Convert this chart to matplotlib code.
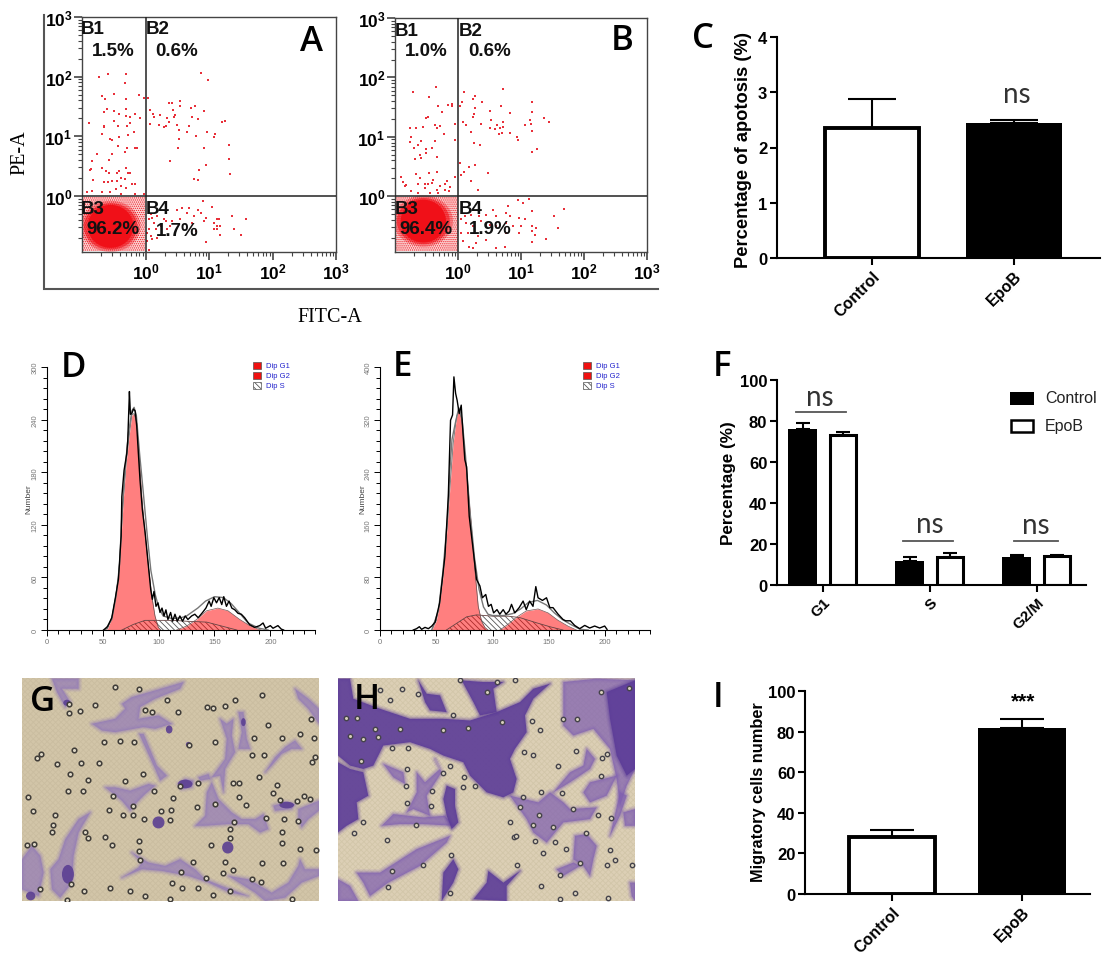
import matplotlib
matplotlib.use("Agg")
import matplotlib.pyplot as plt
import numpy as np
from matplotlib.patches import Ellipse, Polygon, Rectangle
from matplotlib.ticker import LogLocator, MultipleLocator, NullFormatter

W, H = 1116, 954
plt.rcParams['font.family'] = ['Liberation Sans', 'DejaVu Sans']
plt.rcParams['mathtext.fontset'] = 'custom'
plt.rcParams['mathtext.bf'] = 'Liberation Sans:bold'
plt.rcParams['mathtext.rm'] = 'Liberation Sans'
plt.rcParams['hatch.linewidth'] = 0.6

# flow cytometry events, log10(FITC-A), log10(PE-A)
a_fitc = [-0.73,-0.59,-0.31,-0.33,-0.69,-0.63,-0.49,-0.31,-0.11,-0.02,0.04,-0.60,-0.66,-0.49,-0.30,-0.41,-0.31,-0.25,-0.16,-0.09,
          -0.89,-0.66,-0.65,-0.49,-0.44,-0.29,-0.25,-0.18,-0.68,-0.42,-0.28,-0.56,-0.53,-0.43,-0.32,-0.29,-0.76,-0.53,-0.17,-0.14,
          -0.85,-0.58,-0.86,-0.69,-0.45,-0.31,-0.28,-0.88,-0.62,-0.57,-0.42,-0.25,-0.38,-0.83,-0.66,-0.59,-0.52,-0.45,-0.32,-0.21,
          -0.17,-0.46,-0.38,-0.30,-0.92,-0.84,-0.68,-0.56,-0.38,-0.16,-0.03,
          0.87,0.99,0.07,0.37,0.42,0.54,0.54,0.71,0.78,0.92,0.12,0.23,0.13,0.43,0.47,0.45,0.74,0.82,0.34,1.25,1.21,0.37,0.22,0.33,
          0.07,0.29,0.50,0.68,0.53,0.97,1.09,1.08,0.66,0.79,0.52,0.51,0.92,1.32,1.31,0.39,0.96,0.85,1.33,0.76,0.82,
          0.90,1.04,0.68,0.66,0.57,0.49,0.82,0.87,0.76,1.37,1.59,1.13,1.16,0.95,0.92,1.08,1.13,1.17,1.08,1.13,1.39,1.51,1.18,0.96,
          0.79,0.74,0.55,0.42,0.32,0.18,0.08,0.13,0.05,0.24,0.08,0.18,0.05,0.34,0.05,0.11,0.03,0.16,0.11,0.03,0.29,0.39]
a_pe = [2.00,2.04,2.04,1.89,1.68,1.63,1.71,1.63,1.70,1.65,1.65,1.45,1.41,1.43,1.45,1.38,1.34,1.33,1.38,1.31,
        1.23,1.17,1.16,1.26,1.17,1.18,1.22,1.07,1.04,0.98,1.02,0.95,0.93,0.84,0.73,0.81,0.71,0.71,0.81,0.80,
        0.59,0.61,0.45,0.46,0.39,0.47,0.38,0.44,0.42,0.38,0.41,0.38,0.30,0.26,0.24,0.24,0.25,0.25,0.28,0.20,
        0.20,0.11,0.17,0.14,0.07,0.09,0.07,0.07,0.04,0.04,0.03,
        2.06,1.94,1.44,1.56,1.56,1.60,1.51,1.48,1.50,1.43,1.38,1.36,1.32,1.44,1.35,1.32,1.32,1.29,1.30,1.26,1.24,1.24,1.19,1.18,
        1.21,1.15,1.19,1.17,1.11,1.08,1.04,0.98,1.07,1.00,0.96,0.81,0.80,0.85,0.62,0.59,0.52,0.43,0.37,0.28,0.26,
        -0.08,-0.18,-0.20,-0.28,-0.21,-0.24,-0.24,-0.28,-0.34,-0.34,-0.39,-0.39,-0.39,-0.37,-0.42,-0.45,-0.51,-0.51,-0.56,-0.56,-0.55,-0.66,-0.65,-0.78,
        -0.59,-0.45,-0.39,-0.42,-0.42,-0.34,-0.31,-0.45,-0.56,-0.51,-0.67,-0.70,-0.90,-0.56,-0.39,-0.37,-0.62,-0.56,-0.73,-0.76,-0.39,-0.51]
b_fitc = [-0.72,-0.35,-0.46,-0.32,-0.25,-0.16,-0.09,-0.09,-0.48,-0.51,-0.56,-0.66,-0.76,-0.36,-0.34,-0.28,-0.23,-0.05,-0.75,-0.76,
          -0.59,-0.37,-0.05,-0.70,-0.63,-0.51,-0.51,-0.42,-0.61,-0.68,-0.58,-0.34,-0.66,-0.46,-0.33,-0.91,-0.61,-0.39,-0.05,-0.87,
          -0.84,-0.82,-0.63,-0.53,-0.47,-0.42,-0.18,-0.21,-0.29,-0.53,-0.13,-0.15,-0.21,-0.34,-0.32,-0.63,-0.45,-0.74,
          0.09,0.72,0.27,0.24,0.07,0.38,0.03,0.27,0.69,1.17,1.17,0.50,0.25,0.83,0.24,0.53,1.15,1.36,1.45,0.08,0.13,0.37,0.72,0.62,
          1.06,1.16,0.50,0.58,0.67,0.72,0.21,1.17,0.83,0.70,0.65,0.93,0.95,0.25,0.35,1.17,1.26,0.03,0.17,0.27,0.09,0.05,0.48,0.21,0.32,
          0.95,1.12,1.03,0.79,1.68,1.18,0.55,0.76,1.52,0.97,1.06,0.83,0.61,0.45,0.34,0.21,0.11,0.04,0.13,0.24,0.37,0.50,0.61,0.76,0.87,
          1.00,1.17,1.24,1.58,1.17,1.23,0.97,0.76,1.39,1.17,0.61,0.74,0.45,0.29,0.17,0.24,0.05,0.08,0.16,0.32]
b_pe = [1.76,1.84,1.67,1.52,1.42,1.54,1.56,1.51,1.34,1.32,1.16,1.15,1.15,1.19,1.15,1.18,1.04,1.22,1.00,0.92,
        0.93,0.93,0.94,0.81,0.87,0.80,0.73,0.81,0.69,0.63,0.65,0.66,0.37,0.39,0.40,0.33,0.30,0.28,0.32,0.24,
        0.17,0.18,0.21,0.21,0.21,0.22,0.25,0.20,0.17,0.14,0.16,0.08,0.10,0.11,0.06,0.06,0.06,0.08,
        1.75,1.81,1.68,1.63,1.59,1.59,1.51,1.49,1.51,1.59,1.42,1.44,1.39,1.40,1.33,1.29,1.29,1.31,1.25,1.25,1.20,1.22,1.25,1.19,
        1.19,1.21,1.15,1.13,1.15,1.17,1.08,1.10,1.06,1.07,1.04,1.00,0.94,0.89,0.86,0.75,0.80,0.56,0.49,0.52,0.40,0.35,0.39,0.25,0.10,
        -0.07,-0.04,-0.11,-0.16,-0.22,-0.25,-0.24,-0.28,-0.34,-0.37,-0.39,-0.34,-0.34,-0.31,-0.34,-0.31,-0.34,-0.39,-0.45,-0.51,-0.42,-0.48,-0.51,-0.45,-0.51,
        -0.51,-0.51,-0.53,-0.54,-0.59,-0.65,-0.62,-0.62,-0.72,-0.77,-0.87,-0.85,-0.74,-0.79,-0.85,-0.87,-0.62,-0.76,-0.62,-0.67]

# cell cycle histograms: channel, counts
d_raw_x = [50.6,54.2,58,61,64,66.4,67,69,71.4,72.3,73.5,73.8,74.7,75.9,77.4,78.9,80.4,81.8,83.3,85.4,87.8,90.8,92.9,94.3,95.8,97.6,99.4,
           101.2,103,104.8,106.5,108.3,110.7,112.5,114.6,116.7,119,121.4,123.8,126.2,129.5,132.4,135.4,139.3,142.3,145.2,147,149.4,151.8,
           154.2,156.5,158.3,160.7,163,165.5,168.2,171.1,174,177,181.5,186,190.5,193.5,195.8,200,202.4,206.8,209.8,211.9]
d_raw_y = [0,3.8,14,35,58,107,152,182,201,216,260,272,246,247,252,250,232,202,171,137,112,73,46,35,44,27,31,
           20,25,16,23,12,20,10,18,10,16,10,16,12,16,18,14,20,25,33,27,37,31,37,29,38,27,33,25,23,19,18,14,6,3,5,8,2,5,2,5,1,0]
d_fit_x = [52,58,62,65,67,70,73,76,78,80,83,86,90,93,97,100,104,112,120,125,135,142,150,158,165,172,180,190,198]
d_fit_y = [0,12,40,75,130,185,225,250,254,245,200,160,105,68,40,26,16,13,14,16,25,33,38,37,30,20,8,2,0]
d_g1_x = [51,54.2,58,61,64,66.4,68.5,70.8,73.8,75.9,78,80.4,82.7,85.1,87.5,90.8,93.8,96.7,99.7,102]
d_g1_y = [0,1.5,14,35,61,107,152,190,224,245,247,236,194,148,114,73,39,16,3,0]
d_g2_x = [116,125,134,143,153,162,172.6,181.5,189,192]
d_g2_y = [0,4.5,12,22,25,22,12,5,1,0]
d_s_x = [67,77.4,87.8,98,113,125,143,155,170]
d_s_y = [0,6.4,11,11,11,10,9,5,0]

e_raw_x = [29.6,32.5,35,37,40,43,46,49,53,57.7,60.7,62.7,64.5,65.7,67.2,68.6,70.4,72.2,73.4,75.4,77,79.3,82.8,85.8,88.8,91,94,96.4,98.8,
           101,104,106.5,109.5,112,114.8,116.9,119.8,123.7,127.2,130,133,136,138.5,140.5,144.4,148,151,153.8,158.3,162.7,165,169.2,173,
           177.5,182,186.4,190.8,195.3,199.7,201.8]
e_raw_y = [0,2,5,1,4,2,6,12,41,112,203,319,327,385,360,349,329,342,309,259,248,173,122,77,67,49,54,36,39,
           26,31,24,31,24,29,39,26,34,44,31,44,36,66,49,45,49,34,34,24,16,14,14,7,2,7,3,6,3,6,1]
e_fit_x = [46,52,56,60,62,64,67,70,73,76,80,84,88,92,96,100,110,118,125,132,140,148,155,162,170,178,185]
e_fit_y = [0,30,90,170,240,290,315,338,320,265,180,110,62,35,24,22,22,25,32,42,45,38,26,16,8,1,0]
e_g1_x = [46,50,53,56,59,62,65,68,70.4,72.8,75.4,78.4,81.4,84.3,87.3,90.2,93.2,96]
e_g1_y = [0,14,41,82,142,213,284,324,337,319,269,213,153,92,36,14,4,0]
e_g2_x = [106.5,114,121,130,140.5,149.4,158,167,174.6]
e_g2_y = [0,9,19,29,32,26,15,6,0]
e_s_x = [59,68,77,85.8,100.6,114,124,139,151,162.7]
e_s_y = [0,10,20,23,21,21,19,11,5,0]

# bar panels
groups = ['Control', 'EpoB']
apoptosis = [2.35, 2.44]
apoptosis_err = [0.53, 0.05]
phases = ['G1', 'S', 'G2/M']
phase_control = [76, 11.5, 13.7]
phase_control_err = [3.2, 2.0, 1.1]
phase_epob = [73, 13.7, 14.2]
phase_epob_err = [1.5, 1.8, 0.3]
migration = [28, 82]
migration_err = [3.7, 4]

g_cells = [
    [(230,165),(300,150),(330,120),(320,105),(350,85),(420,65),(505,40),(495,60),(420,90),(375,115),(370,150),(430,140),(470,165),(420,180),(385,175),(300,190),(260,185)],
    [(372,195),(385,195),(425,290),(455,320),(435,335),(420,300)],
    [(270,355),(300,355),(345,365),(400,345),(420,350),(390,375),(365,400),(345,425),(320,395)],
    [(550,325),(580,315),(585,330),(555,335)],
    [(615,150),(635,165),(655,150),(650,200),(660,250),(630,300),(625,370),(615,320),(590,325),(630,270),(635,210)],
    [(670,130),(685,130),(695,210),(705,240),(670,240),(680,190)],
    [(590,340),(610,390),(650,430),(680,450),(720,450),(745,435),(760,480),(735,490),(700,465),(640,465),(570,470),(540,470),(570,440),(575,370)],
    [(810,235),(840,215),(860,240),(830,240),(800,255),(770,290),(750,310),(780,265)],
    [(775,410),(810,400),(840,405),(830,420),(780,425)],
    [(850,420),(912,395),(912,425),(880,450),(860,475),(850,450)],
    [(840,60),(880,90),(912,120),(912,165),(880,120),(850,90)],
    [(150,510),(190,450),(225,430),(190,490),(175,560),(170,640),(135,685),(110,660),(105,600),(130,570)],
    [(20,570),(50,530),(75,560),(85,610),(70,680),(20,660)],
    [(350,550),(400,580),(450,590),(495,570),(540,600),(570,630),(620,650),(700,680),(645,670),(580,640),(520,620),(440,605),(380,600),(320,625),(370,595),(380,580)],
    [(640,620),(700,630),(770,670),(820,640),(850,590),(855,570),(870,600),(912,600),(912,620),(860,640),(810,685),(750,695),(720,670)],
    [(110,30),(190,30),(190,60),(140,60),(165,100),(150,115),(125,70)],
    [(490,345),(510,330),(535,335),(530,355),(500,360)],
]
g_nuclei = [(430,460,36,36),(638,535,34,36),(158,615,36,56),(46,680,28,26),(520,227,16,16),(462,182,20,24),(685,160,14,24),(155,102,22,18),(510,345,44,26),(815,408,44,20)]
g_pore_x = [370,300,455,240,160,195,388,410,490,575,595,630,660,740,760,887,855,800,897,717,600,523,355,315,267,177,77,65,250,198,125,163,218,382,330,158,202,292,38,52,118,112,110,208,268,218,290,370,370,375,35,55,282,323,352,385,437,468,463,473,545,600,645,657,587,645,630,655,623,535,497,573,740,805,712,738,802,802,855,902,850,807,752,732,655,672,693,672,773,787,795,845,868,885,890,900,748,712,75,168,205,283,345,390,470,500,550,595,645,465,830,155,415,550,495,352,160]
g_pore_y = [62,55,95,110,132,128,125,130,130,115,118,112,95,80,170,150,195,207,207,208,220,227,218,215,220,243,255,267,283,282,285,315,333,315,335,365,365,380,385,425,437,467,490,490,503,507,527,517,545,572,527,525,423,437,437,450,425,423,453,387,415,405,480,458,527,507,578,602,610,578,607,627,580,582,630,638,488,522,540,543,455,450,447,325,342,342,407,385,372,347,392,397,380,390,280,265,257,257,660,645,665,655,665,680,640,657,657,677,665,688,688,692,365,342,350,410,105]

h_dark = [
    [(24,30),(60,30),(70,90),(150,120),(240,150),(340,150),(420,155),(500,130),(570,100),(610,60),(660,45),(610,90),(585,140),(590,190),(555,240),(540,270),(560,330),(550,370),(520,385),(470,370),(420,320),(400,280),(340,260),(300,240),(240,220),(160,230),(130,290),(100,300),(60,290),(24,260),(24,150)],
    [(395,35),(460,40),(520,40),(490,60),(500,130),(450,140),(430,100)],
    [(265,35),(290,75),(330,80),(350,130),(300,125),(285,100)],
    [(24,280),(60,300),(100,310),(115,380),(80,400),(85,450),(50,470),(24,490)],
    [(350,350),(375,360),(375,410),(385,460),(365,480),(350,440),(340,390)],
    [(430,690),(470,640),(475,605),(520,640),(570,605),(530,650),(530,695)],
    [(340,610),(370,570),(385,600),(370,640),(335,695)],
    [(830,70),(915,35),(915,300),(890,320),(860,260),(840,150)],
]
h_cells = [
    [(700,40),(800,30),(915,35),(915,300),(890,350),(870,410),(860,330),(840,240),(790,180),(730,200),(700,170)],
    [(260,310),(285,340),(330,300),(315,270),(335,310),(290,380),(300,440),(250,420),(230,430),(260,370)],
    [(190,435),(280,445),(345,440),(370,470),(280,465),(210,465),(155,470)],
    [(80,610),(150,610),(260,540),(360,500),(350,520),(270,590),(175,640),(120,680),(100,640)],
    [(540,380),(625,400),(660,370),(700,400),(720,420),(800,415),(780,450),(700,460),(650,520),(610,490),(590,450)],
    [(670,370),(720,310),(760,290),(770,240),(795,270),(780,300),(720,340)],
    [(780,340),(860,320),(830,380),(780,400),(760,370)],
    [(735,500),(770,495),(800,530),(790,570),(780,620),(760,590),(730,570)],
    [(680,600),(730,580),(750,590),(700,620)],
    [(870,370),(890,380),(870,440),(840,500)],
    [(880,430),(915,420),(915,470),(885,470)],
    [(24,630),(60,650),(85,695),(24,695)],
    [(160,285),(220,310),(225,345),(190,325)],
    [(900,640),(915,640),(915,695),(905,680)],
]
h_pore_x = [265,180,150,48,82,135,60,100,145,210,185,235,92,232,227,305,402,400,435,360,340,303,230,98,72,172,258,362,278,185,175,360,553,558,615,675,708,640,560,632,690,750,830,840,855,907,735,690,835,767,842,803,730,628,670,608,540,570,633,580,697,812,738,815,832,685,583,608,630,605,700,740,812,897,500,555,390,470,340,415,515,370,215]
h_pore_y = [75,95,65,148,147,180,200,210,205,180,238,238,275,300,350,365,325,355,350,290,312,410,403,460,492,513,467,557,588,605,652,670,505,500,515,520,540,550,587,650,618,582,588,542,572,588,672,690,685,493,447,437,420,437,475,468,460,415,368,385,372,322,245,268,255,292,248,257,183,158,150,150,70,57,40,35,35,70,183,178,160,140,60]

fig = plt.figure(figsize=(W/100, H/100), dpi=100, facecolor='white')


def px_axes(l, t, r, b):
    return fig.add_axes([l/W, 1-b/H, (r-l)/W, (b-t)/H])


def flow_panel(box, xs, ys, centre):
    ax = px_axes(*box)
    ax.set_xscale('log')
    ax.set_yscale('log')
    ax.set_xlim(10**-1, 10**3)
    ax.set_ylim(10**-0.94, 10**3)
    # event cloud in the lower left gate
    ax.add_patch(Rectangle((0.105, 0.118), 0.88, 0.86, facecolor='#fbd5d5', edgecolor='#ee1c25',
                           hatch='........', lw=0, zorder=1))
    t = np.linspace(0, 2*np.pi, 60)
    for rx, ry, alpha in [(0.47, 0.43, 0.35), (0.42, 0.39, 0.6), (0.36, 0.36, 1)]:
        ax.fill(10**(centre[0] + rx*np.cos(t)), 10**(centre[1] + ry*np.sin(t)), color='#f01018', lw=0, zorder=2, alpha=alpha)
    ax.scatter(10**np.array(xs), 10**np.array(ys), s=1.7, c='#e8303a', marker='s', linewidths=0, zorder=3)
    ax.axvline(1, color='#222222', lw=1.1, zorder=4)
    ax.axhline(1, color='#222222', lw=1.1, zorder=4)
    for s in ax.spines.values():
        s.set_color('#444444')
        s.set_linewidth(1.0)
    ticks = [1, 10, 100, 1000]
    labs = [r'$\mathbf{10^{%d}}$' % i for i in range(4)]
    ax.set_xticks(ticks, labs, fontsize=12.5)
    ax.set_yticks(ticks, labs, fontsize=12.5)
    for a in (ax.xaxis, ax.yaxis):
        a.set_minor_locator(LogLocator(base=10, subs=range(2, 10), numticks=12))
        a.set_minor_formatter(NullFormatter())
    ax.tick_params(which='major', length=6, width=1.2, color='#444444', pad=1)
    ax.tick_params(which='minor', length=3, width=0.8, color='#444444')
    return ax


def hist_panel(box, ymax, ystep, raw, fit, g1, g2, s_phase):
    ax = px_axes(*box)
    ax.fill_between(s_phase[0], s_phase[1], facecolor='white', edgecolor='#555555', hatch='\\\\\\\\\\\\', lw=0, zorder=1)
    ax.fill_between(g1[0], g1[1], color='#ff0000', alpha=0.5, lw=0, zorder=2)
    ax.fill_between(g2[0], g2[1], color='#ff0000', alpha=0.5, lw=0, zorder=2)
    ax.plot(s_phase[0], s_phase[1], color='#664444', lw=0.6, zorder=3)
    ax.plot(g1[0], g1[1], color='#555555', lw=0.5, zorder=3)
    ax.plot(g2[0], g2[1], color='#775555', lw=0.5, zorder=3)
    ax.plot(fit[0], fit[1], color='#777777', lw=1.0, zorder=3)
    ax.plot(raw[0], raw[1], color='black', lw=1.0, zorder=4)
    ax.set_xlim(0, 240)
    ax.set_ylim(0, ymax)
    ax.spines[['top', 'right']].set_visible(False)
    ax.spines[['left', 'bottom']].set_linewidth(0.8)
    ax.xaxis.set_major_locator(MultipleLocator(50))
    ax.xaxis.set_minor_locator(MultipleLocator(10))
    ax.yaxis.set_major_locator(MultipleLocator(ystep))
    ax.yaxis.set_minor_locator(MultipleLocator(ystep/5))
    ax.tick_params(which='major', length=4, width=0.7, labelsize=5.5, labelcolor='#777777', pad=2)
    ax.tick_params(which='minor', length=3, width=0.7)
    for t in ax.get_yticklabels():
        t.set_rotation(90)
        t.set_va('center')
    ax.patch.set_alpha(0)
    return ax


def bar_panel(box, xlim, ylim, ystep):
    ax = px_axes(*box)
    ax.set_xlim(*xlim)
    ax.set_ylim(*ylim)
    ax.spines[['top', 'right']].set_visible(False)
    ax.spines[['left', 'bottom']].set_linewidth(1.5)
    ax.yaxis.set_major_locator(MultipleLocator(ystep))
    ax.tick_params(length=5, width=1.5, pad=2)
    ax.patch.set_alpha(0)
    return ax


def rotated_ticks(ax, pos, labels, size):
    ax.set_xticks(pos)
    ax.set_xticklabels(labels, rotation=45, ha='right', rotation_mode='anchor', fontsize=size, fontweight='bold')
    for t in ax.get_yticklabels():
        t.set_fontsize(12)
        t.set_fontweight('bold')


def two_bars(ax, vals, errs, width, capsize):
    ax.bar(0, vals[0], width, facecolor='white', edgecolor='black', lw=2.8, zorder=2)
    ax.bar(1, vals[1], width+0.02, facecolor='black', edgecolor='black', lw=0, zorder=2)
    ax.errorbar([0, 1], vals, yerr=[[0, 0], errs], fmt='none', ecolor='black', elinewidth=1.5, capsize=capsize, capthick=1.5, zorder=1)


def photo_panel(box, extent, bg, hatch_col):
    ax = px_axes(*box)
    ax.set_xlim(extent[0], extent[1])
    ax.set_ylim(extent[3], extent[2])
    ax.set_xticks([])
    ax.set_yticks([])
    for s in ax.spines.values():
        s.set_visible(False)
    ax.add_patch(Rectangle((extent[0], extent[2]), extent[1]-extent[0], extent[3]-extent[2], facecolor=bg,
                           edgecolor=hatch_col, hatch='xxxxxx', lw=0, zorder=0))
    return ax


def soft_cell(ax, pts, colour, alpha, z):
    # stacked outlines give the blurry rim of the stained cells
    for lw, a in [(5, 0.12), (3, 0.18), (1.5, 0.25)]:
        ax.add_patch(Polygon(pts, closed=True, fill=False, edgecolor=colour, alpha=a, lw=lw, zorder=z, joinstyle='round'))
    ax.add_patch(Polygon(pts, closed=True, facecolor=colour, alpha=alpha, lw=0, zorder=z))


# A and B
flow_panel((82, 18, 336, 253), a_fitc, a_pe, (-0.55, -0.51))
flow_panel((395, 19, 647, 253), b_fitc, b_pe, (-0.55, -0.42))

# C
ax_c = bar_panel((777, 38, 1100, 259), (-0.669, 1.606), (0, 4), 1)
two_bars(ax_c, apoptosis, apoptosis_err, 0.66, 17)
rotated_ticks(ax_c, [0, 1], groups, 11.5)

# D and E
hist_panel((47, 368, 315, 631), 300, 60, (d_raw_x, d_raw_y), (d_fit_x, d_fit_y), (d_g1_x, d_g1_y), (d_g2_x, d_g2_y), (d_s_x, d_s_y))
hist_panel((380, 368, 650, 631), 400, 80, (e_raw_x, e_raw_y), (e_fit_x, e_fit_y), (e_g1_x, e_g1_y), (e_g2_x, e_g2_y), (e_s_x, e_s_y))

# F
ax_f = bar_panel((777, 381, 1086, 586), (-0.43, 2.46), (0, 100), 20)
xf = np.arange(len(phases))
ax_f.bar(xf-0.19, phase_control, 0.27, color='black', lw=0, zorder=2)
ax_f.bar(xf+0.19, phase_epob, 0.245, facecolor='white', edgecolor='black', lw=2.2, zorder=2)
ax_f.errorbar(xf-0.19, phase_control, yerr=[[0]*3, phase_control_err], fmt='none', ecolor='black', elinewidth=1.5, capsize=4.8, capthick=1.5, zorder=1)
ax_f.errorbar(xf+0.19, phase_epob, yerr=[[0]*3, phase_epob_err], fmt='none', ecolor='black', elinewidth=1.5, capsize=4.8, capthick=1.5, zorder=1)
rotated_ticks(ax_f, xf, phases, 11)
ax_f.plot([-0.25, 0.22], [84.4, 84.4], color='#555555', lw=1.3)
ax_f.plot([0.75, 1.22], [21.6, 21.6], color='#555555', lw=1.3)
ax_f.plot([1.79, 2.2], [21.6, 21.6], color='#555555', lw=1.3)

# G and H
ax_g = photo_panel((22, 679, 319, 902), (20, 912, 28, 695), '#d2c5a8', '#cabda0')
for pts in g_cells:
    soft_cell(ax_g, pts, '#8f76b8', 0.68, 1)
for x, y, w, h in g_nuclei:
    ax_g.add_patch(Ellipse((x, y), w, h, facecolor='#5b3f92', alpha=0.9, lw=0, zorder=2))
ax_g.scatter(g_pore_x, g_pore_y, s=11, facecolor='#ddd6c4', edgecolor='#3f3c38', linewidths=1.1, zorder=3)

ax_h = photo_panel((338, 679, 635, 902), (24, 915, 28, 695), '#dccfb5', '#d2c6a9')
for pts in h_cells:
    soft_cell(ax_h, pts, '#7f5fb0', 0.72, 1)
for pts in h_dark:
    soft_cell(ax_h, pts, '#5c3c98', 0.9, 2)
ax_h.scatter(h_pore_x, h_pore_y, s=10, facecolor='#d8d0bc', edgecolor='#45434a', linewidths=1.0, zorder=3)

# I
ax_i = bar_panel((805, 692, 1090, 895), (-0.669, 1.523), (0, 100), 20)
two_bars(ax_i, migration, migration_err, 0.66, 15.5)
rotated_ticks(ax_i, [0, 1], groups, 11.5)

# overlay in pixel positions for labels
ov = fig.add_axes([0, 0, 1, 1], zorder=20)
ov.set_xlim(0, W)
ov.set_ylim(H, 0)
ov.axis('off')
ov.patch.set_alpha(0)

ov.plot([44, 44, 658], [16, 290, 290], color='#555555', lw=1.5, solid_joinstyle='miter')
ov.text(20, 153, 'PE-A', family='Liberation Serif', fontsize=14.5, rotation=90, ha='center', va='center')
ov.text(330, 318, 'FITC-A', family='Liberation Serif', fontsize=14.5, ha='center', va='center')

gate_text = [
    (93, 29, 'B1'), (113, 52, '1.5%'), (158, 29, 'B2'), (177, 52, '0.6%'),
    (93, 209, 'B3'), (113, 230, '96.2%'), (158, 209, 'B4'), (177, 231, '1.7%'),
    (407, 31, 'B1'), (426, 52, '1.0%'), (471, 31, 'B2'), (490, 52, '0.6%'),
    (407, 209, 'B3'), (426, 230, '96.4%'), (471, 209, 'B4'), (490, 230, '1.9%'),
]
for x, y, s in gate_text:
    ov.text(x, y, s, fontsize=13.5, fontweight='bold', ha='center', va='center', color='#111111')

big_letters = [(312, 42, 'A'), (622, 41, 'B'), (703, 39, 'C'), (73, 368, 'D'), (402, 367, 'E'), (722, 367, 'F'),
               (43, 702, 'G'), (367, 700, 'H'), (718, 698, 'I')]
for x, y, s in big_letters:
    ov.text(x, y, s, family='Open Sans', fontsize=25, fontweight='semibold', ha='center', va='center', color='black')

ov.text(743, 150, 'Percentage of apotosis (%)', fontsize=13.2, fontweight='bold', rotation=90, ha='center', va='center')
ov.text(728, 483, 'Percentage (%)', fontsize=12.3, fontweight='bold', rotation=90, ha='center', va='center')
ov.text(758, 792, 'Migratory cells number', fontsize=11.8, fontweight='bold', rotation=90, ha='center', va='center')

for x, y in [(1017, 95), (820, 398), (930, 525), (1036, 526)]:
    ov.text(x, y, 'ns', family='Lato', fontsize=20, ha='center', va='center', color='#333333')
ov.text(1023, 702, '***', fontsize=15, fontweight='bold', ha='center', va='center')

# F legend
ov.add_patch(Rectangle((1010, 393), 24, 13, facecolor='black', edgecolor='black', lw=0))
ov.add_patch(Rectangle((1011, 421), 22, 12, facecolor='white', edgecolor='black', lw=1.8))
ov.text(1045, 399, 'Control', fontsize=11.5, va='center', color='#222222')
ov.text(1045, 427, 'EpoB', fontsize=11.5, va='center', color='#222222')

# D and E model legends and y titles
for x0 in (257, 587):
    ov.add_patch(Rectangle((x0-4, 363), 8, 7, facecolor='#ee1111', edgecolor='#555555', lw=0.5))
    ov.add_patch(Rectangle((x0-4, 373), 8, 7, facecolor='#ee1111', edgecolor='#555555', lw=0.5))
    ov.add_patch(Rectangle((x0-4, 383), 8, 7, facecolor='white', edgecolor='#555555', hatch='\\\\\\\\\\\\', lw=0.5))
    for dy, lab in [(367, 'Dip G1'), (377, 'Dip G2'), (387, 'Dip S')]:
        ov.text(x0+9, dy, lab, fontsize=5.5, color='#2222cc', va='center')
ov.text(29, 499, 'Number', fontsize=6, rotation=90, color='#444444', ha='center', va='center')
ov.text(363, 499, 'Number', fontsize=6, rotation=90, color='#444444', ha='center', va='center')

fig.savefig('out.png', dpi=100)
